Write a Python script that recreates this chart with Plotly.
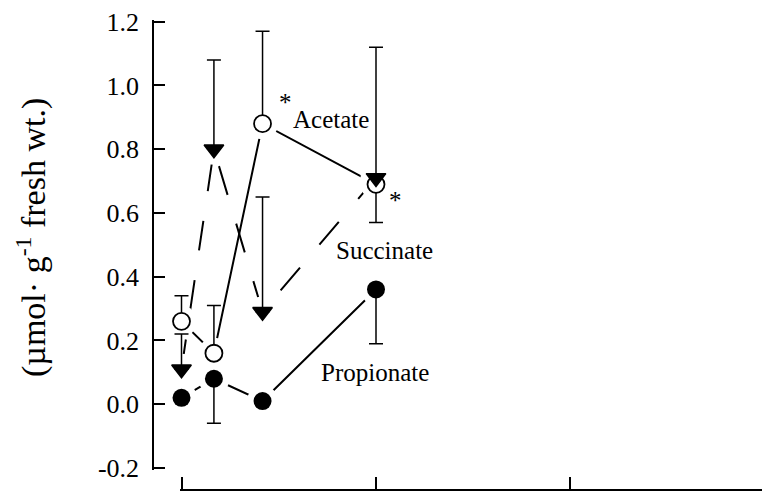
import plotly.graph_objects as go

# Sampling times (h)
hours = [0, 4, 10, 24]

# Organic acid content, µmol per g fresh weight
acetate = [0.26, 0.16, 0.88, 0.69]
acetate_err_up = [0.08, 0.15, 0.29, 0.0]
acetate_err_down = [0.0, 0.0, 0.0, 0.12]

succinate = [0.11, 0.80, 0.29, 0.71]
succinate_err_up = [0.11, 0.28, 0.36, 0.41]
succinate_err_down = [0.0, 0.0, 0.0, 0.0]

propionate = [0.02, 0.08, 0.01, 0.36]
propionate_err_up = [0.0, 0.0, 0.0, 0.0]
propionate_err_down = [0.0, 0.14, 0.0, 0.17]

y_tick_values = [-0.2, 0.0, 0.2, 0.4, 0.6, 0.8, 1.0, 1.2]
y_tick_labels = ["-0.2", "0.0", "0.2", "0.4", "0.6", "0.8", "1.0", "1.2"]
x_tick_values = [0, 24, 48, 72]

series_labels = ["Acetate", "Succinate", "Propionate"]
y_title = "(µmol· g<sup>-1</sup> fresh wt.)"

FONT = "Liberation Serif"
W, H = 762, 493

# pixel geometry of the plotting frame
Y_AXIS_PX = 154.0          # x pixel of the vertical axis line
X0_PX = 181.5              # x pixel of time zero
PX_PER_H = 8.104           # horizontal scale
Y_TOP_PX, Y_BOT_PX = 21.7, 468.0   # pixels of 1.2 and -0.2
Y_LO, Y_HI = -0.2, 1.2
px_per_unit = (Y_BOT_PX - Y_TOP_PX) / (Y_HI - Y_LO)
END_PAD = 1.6              # keeps the end ticks from being trimmed

x_lo = -(X0_PX - Y_AXIS_PX) / PX_PER_H
x_hi = (W - X0_PX) / PX_PER_H
y_pad = END_PAD / px_per_unit
y_dom = [(H - Y_BOT_PX - END_PAD) / H, (H - Y_TOP_PX + END_PAD) / H]

fig = go.Figure()

# connecting lines
fig.add_trace(go.Scatter(x=hours, y=acetate, mode="lines",
                         line=dict(color="black", width=2)))
fig.add_trace(go.Scatter(x=hours, y=succinate, mode="lines",
                         line=dict(color="black", width=2, dash="30px,30px")))
fig.add_trace(go.Scatter(x=hours, y=propionate, mode="lines",
                         line=dict(color="black", width=2)))

# white rings so the lines stop short of the symbols
for ys in (acetate, succinate, propionate):
    fig.add_trace(go.Scatter(x=hours, y=ys, mode="markers", cliponaxis=False,
                             marker=dict(symbol="circle", size=31, color="white",
                                         line=dict(width=0))))

def err(up, down):
    return dict(type="data", symmetric=False, array=up, arrayminus=down,
                color="black", thickness=1.5, width=7)

fig.add_trace(go.Scatter(x=hours, y=acetate, mode="markers", cliponaxis=False,
                         error_y=err(acetate_err_up, acetate_err_down),
                         marker=dict(symbol="circle", size=17, color="white",
                                     line=dict(color="black", width=1.8))))
fig.add_trace(go.Scatter(x=hours, y=succinate, mode="markers", cliponaxis=False,
                         error_y=err(succinate_err_up, succinate_err_down),
                         marker=dict(symbol="triangle-down", size=17, color="black",
                                     line=dict(color="black", width=1.5))))
fig.add_trace(go.Scatter(x=hours, y=propionate, mode="markers", cliponaxis=False,
                         error_y=err(propionate_err_up, propionate_err_down),
                         marker=dict(symbol="circle", size=18, color="black",
                                     line=dict(width=0))))

# carrier for the detached time axis along the bottom
fig.add_trace(go.Scatter(x=[], y=[], xaxis="x2", yaxis="y", mode="markers",
                         hoverinfo="skip"))

annotations = [
    dict(x=18.4, y=0.892, text=series_labels[0]),
    dict(x=25.07, y=0.481, text=series_labels[1]),
    dict(x=23.88, y=0.101, text=series_labels[2]),
    dict(x=12.8, y=0.948, text="*"),
    dict(x=26.43, y=0.640, text="*"),
]
for a in annotations:
    a.update(xref="x", yref="y", showarrow=False, xanchor="center",
             yanchor="middle", font=dict(family=FONT, size=25, color="black"))

annotations.append(dict(x=31 / W, y=1 - 238 / H, xref="paper", yref="paper",
                        xanchor="center", yanchor="middle",
                        text=y_title, textangle=-90, showarrow=False,
                        font=dict(family=FONT, size=34, color="black")))

fig.update_layout(
    width=W, height=H,
    margin=dict(l=0, r=0, t=0, b=0, pad=0, autoexpand=False),
    paper_bgcolor="white", plot_bgcolor="rgba(0,0,0,0)",
    showlegend=False,
    font=dict(family=FONT, size=24, color="black"),
    annotations=annotations,
    xaxis=dict(domain=[Y_AXIS_PX / W, 1], range=[x_lo, x_hi], anchor="y",
               showgrid=False, zeroline=False, showline=False, ticks="",
               showticklabels=False),
    xaxis2=dict(domain=[(X0_PX - END_PAD) / W, 1],
                range=[-END_PAD / PX_PER_H, x_hi], anchor="free",
                position=3 / H, showgrid=False, zeroline=False,
                showline=True, linecolor="black", linewidth=1.5,
                tickmode="array", tickvals=x_tick_values, ticks="inside",
                ticklen=12, tickwidth=1.5, tickcolor="black",
                showticklabels=False),
    yaxis=dict(domain=y_dom, range=[Y_LO - y_pad, Y_HI + y_pad],
               anchor="x", side="left", showgrid=False, zeroline=False,
               showline=True, linecolor="black", linewidth=1.5,
               tickmode="array", tickvals=y_tick_values, ticktext=y_tick_labels,
               ticks="inside", ticklen=11, tickwidth=1.5, tickcolor="black",
               ticklabelstandoff=8,
               tickfont=dict(family=FONT, size=26, color="black")),
)

fig.write_html("out.html")
